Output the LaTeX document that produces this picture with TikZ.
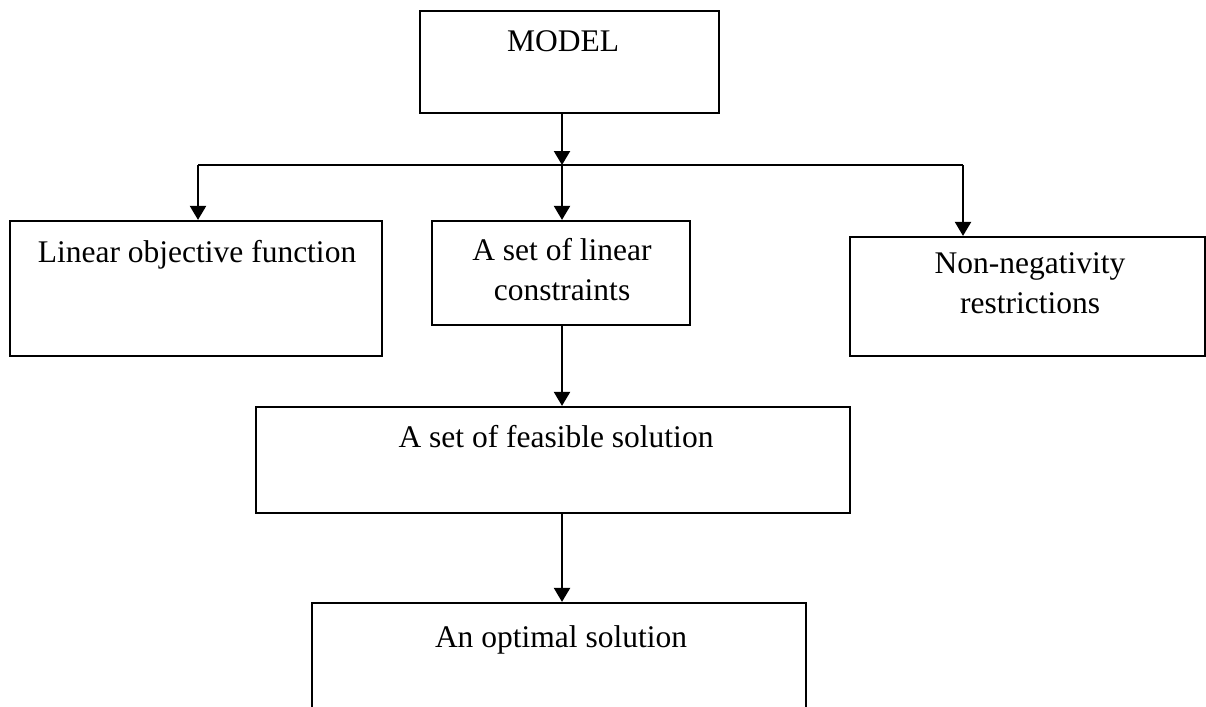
\documentclass[tikz,border=0pt]{standalone}
\usepackage{fontspec}
\setmainfont{Liberation Serif}
\usetikzlibrary{arrows.meta}
\tikzset{
  lp diagram/.style={line cap=butt, line join=miter},
  lp box/.style={draw=black, line width=2.2pt, fill=none, inner sep=0pt},
  lp text/.style={font=\fontsize{31.5}{40}\selectfont, anchor=base, align=center, inner sep=0pt},
  lp arrow/.style={-{Triangle[length=14pt,width=16pt]}, draw=black, line width=2.2pt},
  lp line/.style={draw=black, line width=2.2pt}
}

\begin{document}
\begin{tikzpicture}[lp diagram,x=1pt,y=-1pt]
\useasboundingbox (0,0) rectangle (1206,706);
\clip (0,0) rectangle (1206,706);
% boxes
\node[lp box,minimum width=299pt,minimum height=102pt] (model) at (569.5,62) {};
\node[lp box,minimum width=372pt,minimum height=135pt] (obj) at (196,288.5) {};
\node[lp box,minimum width=258pt,minimum height=104pt] (cons) at (561,273) {};
\node[lp box,minimum width=355pt,minimum height=119pt] (nonneg) at (1027.5,296.5) {};
\node[lp box,minimum width=594pt,minimum height=106pt] (feas) at (553,460) {};
\node[lp box,minimum width=494pt,minimum height=130pt] (opt) at (559,668) {};
% texts (base = last line)
\node[lp text] (modeltxt) at (563,52) {MODEL};
\node[lp text] (objtxt) at (197,262) {Linear objective function};
\node[lp text] (constxt) at (562,300) {A set of linear\\constraints};
\node[lp text] (nonnegtxt) at (1030,313) {Non-negativity\\restrictions};
\node[lp text] (feastxt) at (556,447) {A set of feasible solution};
\node[lp text] (opttxt) at (561,647) {An optimal solution};
% connectors
\coordinate (split) at (562,165);
\coordinate (barL) at (198,165);
\coordinate (barR) at (963,165);
\draw[lp arrow] (model.south -| split) -- (split);
\draw[lp line] (barL) -- (barR);
\draw[lp arrow] (barL) -- (barL |- obj.north);
\draw[lp arrow] (split) -- (split |- cons.north);
\draw[lp arrow] (barR) -- (barR |- nonneg.north);
\draw[lp arrow] (cons.south -| split) -- (split |- feas.north);
\draw[lp arrow] (feas.south -| split) -- (split |- opt.north);
\end{tikzpicture}
\end{document}
